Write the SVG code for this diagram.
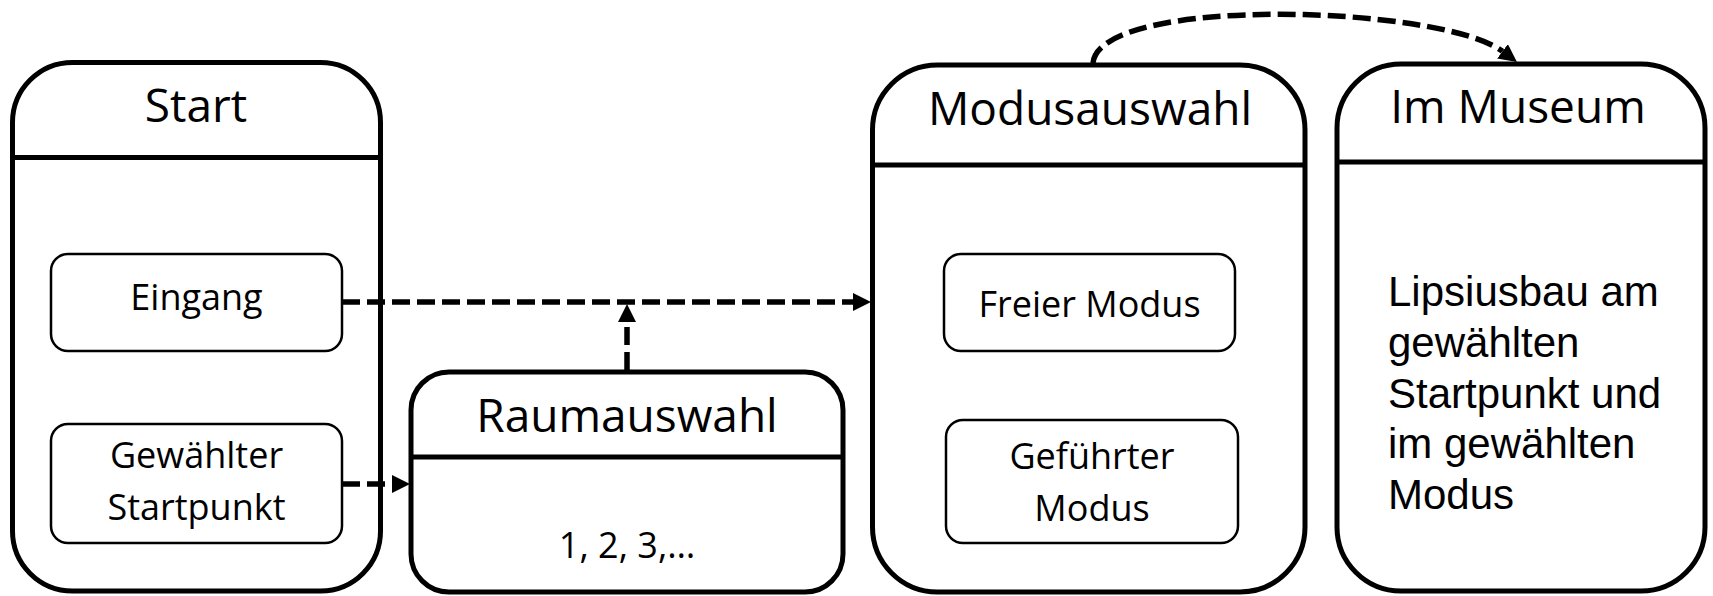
<svg xmlns="http://www.w3.org/2000/svg" width="1713" height="596" viewBox="0 0 1713 596">
<style>
.big{fill:#fff;stroke:#000;stroke-width:5}
.hl{stroke:#000;stroke-width:5}
.small{fill:#fff;stroke:#000;stroke-width:2.5}
.hd{font-family:"Open Sans","Noto Sans",sans-serif;font-size:46px;text-anchor:middle;fill:#000}
.bd{font-family:"Open Sans","Noto Sans",sans-serif;font-size:36px;text-anchor:middle;fill:#000}
.ar{font-family:"Liberation Sans",Arial,sans-serif;font-size:42px;fill:#000}
.cn{fill:none;stroke:#000;stroke-width:5.5;stroke-dasharray:18 7}
</style>
<defs>
<marker id="ah" markerUnits="userSpaceOnUse" markerWidth="18" markerHeight="18" viewBox="0 -9 18 18" refX="0" refY="0" orient="auto">
<path d="M0,-9 L18,0 L0,9 z" fill="#000"/>
</marker>
</defs>
<g id="start">
<rect class="big" x="12.5" y="62.5" width="368" height="528.5" rx="60"/>
<line class="hl" x1="12.5" y1="157.5" x2="380.5" y2="157.5"/>
<text class="hd" x="196" y="122">Start</text>
</g>
<g id="eingang">
<rect class="small" x="51" y="254" width="291" height="97" rx="17"/>
<text class="bd" x="196.5" y="310">Eingang</text>
</g>
<g id="gewaehlter">
<rect class="small" x="51" y="424" width="291" height="119" rx="17"/>
<text class="bd" x="196.5" y="468">Gewählter</text>
<text class="bd" x="196.5" y="520">Startpunkt</text>
</g>
<g id="raumauswahl">
<rect class="big" x="411" y="372" width="432" height="220" rx="38"/>
<line class="hl" x1="411" y1="457" x2="843" y2="457"/>
<text class="hd" x="627" y="432">Raumauswahl</text>
<text class="bd" x="627" y="558">1, 2, 3,…</text>
</g>
<g id="modusauswahl">
<rect class="big" x="872.5" y="65" width="432.5" height="527" rx="65"/>
<line class="hl" x1="872.5" y1="165" x2="1305" y2="165"/>
<text class="hd" x="1090" y="125">Modusauswahl</text>
</g>
<g id="freier">
<rect class="small" x="944" y="254" width="291" height="97" rx="17"/>
<text class="bd" x="1089.5" y="317">Freier Modus</text>
</g>
<g id="gefuehrter">
<rect class="small" x="946" y="420" width="292" height="123" rx="17"/>
<text class="bd" x="1092" y="469">Geführter</text>
<text class="bd" x="1092" y="521">Modus</text>
</g>
<g id="immuseum">
<rect class="big" x="1337" y="64" width="368" height="527" rx="64"/>
<line class="hl" x1="1337" y1="162" x2="1705" y2="162"/>
<text class="hd" x="1518" y="123">Im Museum</text>
<text class="ar" x="1388" y="306">Lipsiusbau am</text>
<text class="ar" x="1388" y="357">gewählten</text>
<text class="ar" x="1388" y="408">Startpunkt und</text>
<text class="ar" x="1388" y="458">im gewählten</text>
<text class="ar" x="1388" y="509">Modus</text>
</g>
<g id="connectors">
<path class="cn" d="M342,302 H853" marker-end="url(#ah)"/>
<path class="cn" d="M342,484 H392" marker-end="url(#ah)"/>
<path class="cn" d="M627,370 V322" marker-end="url(#ah)"/>
<path class="cn" d="M1093,63 C1100,-5 1440,5 1502.5,51.3" marker-end="url(#ah)"/>
</g>
</svg>
